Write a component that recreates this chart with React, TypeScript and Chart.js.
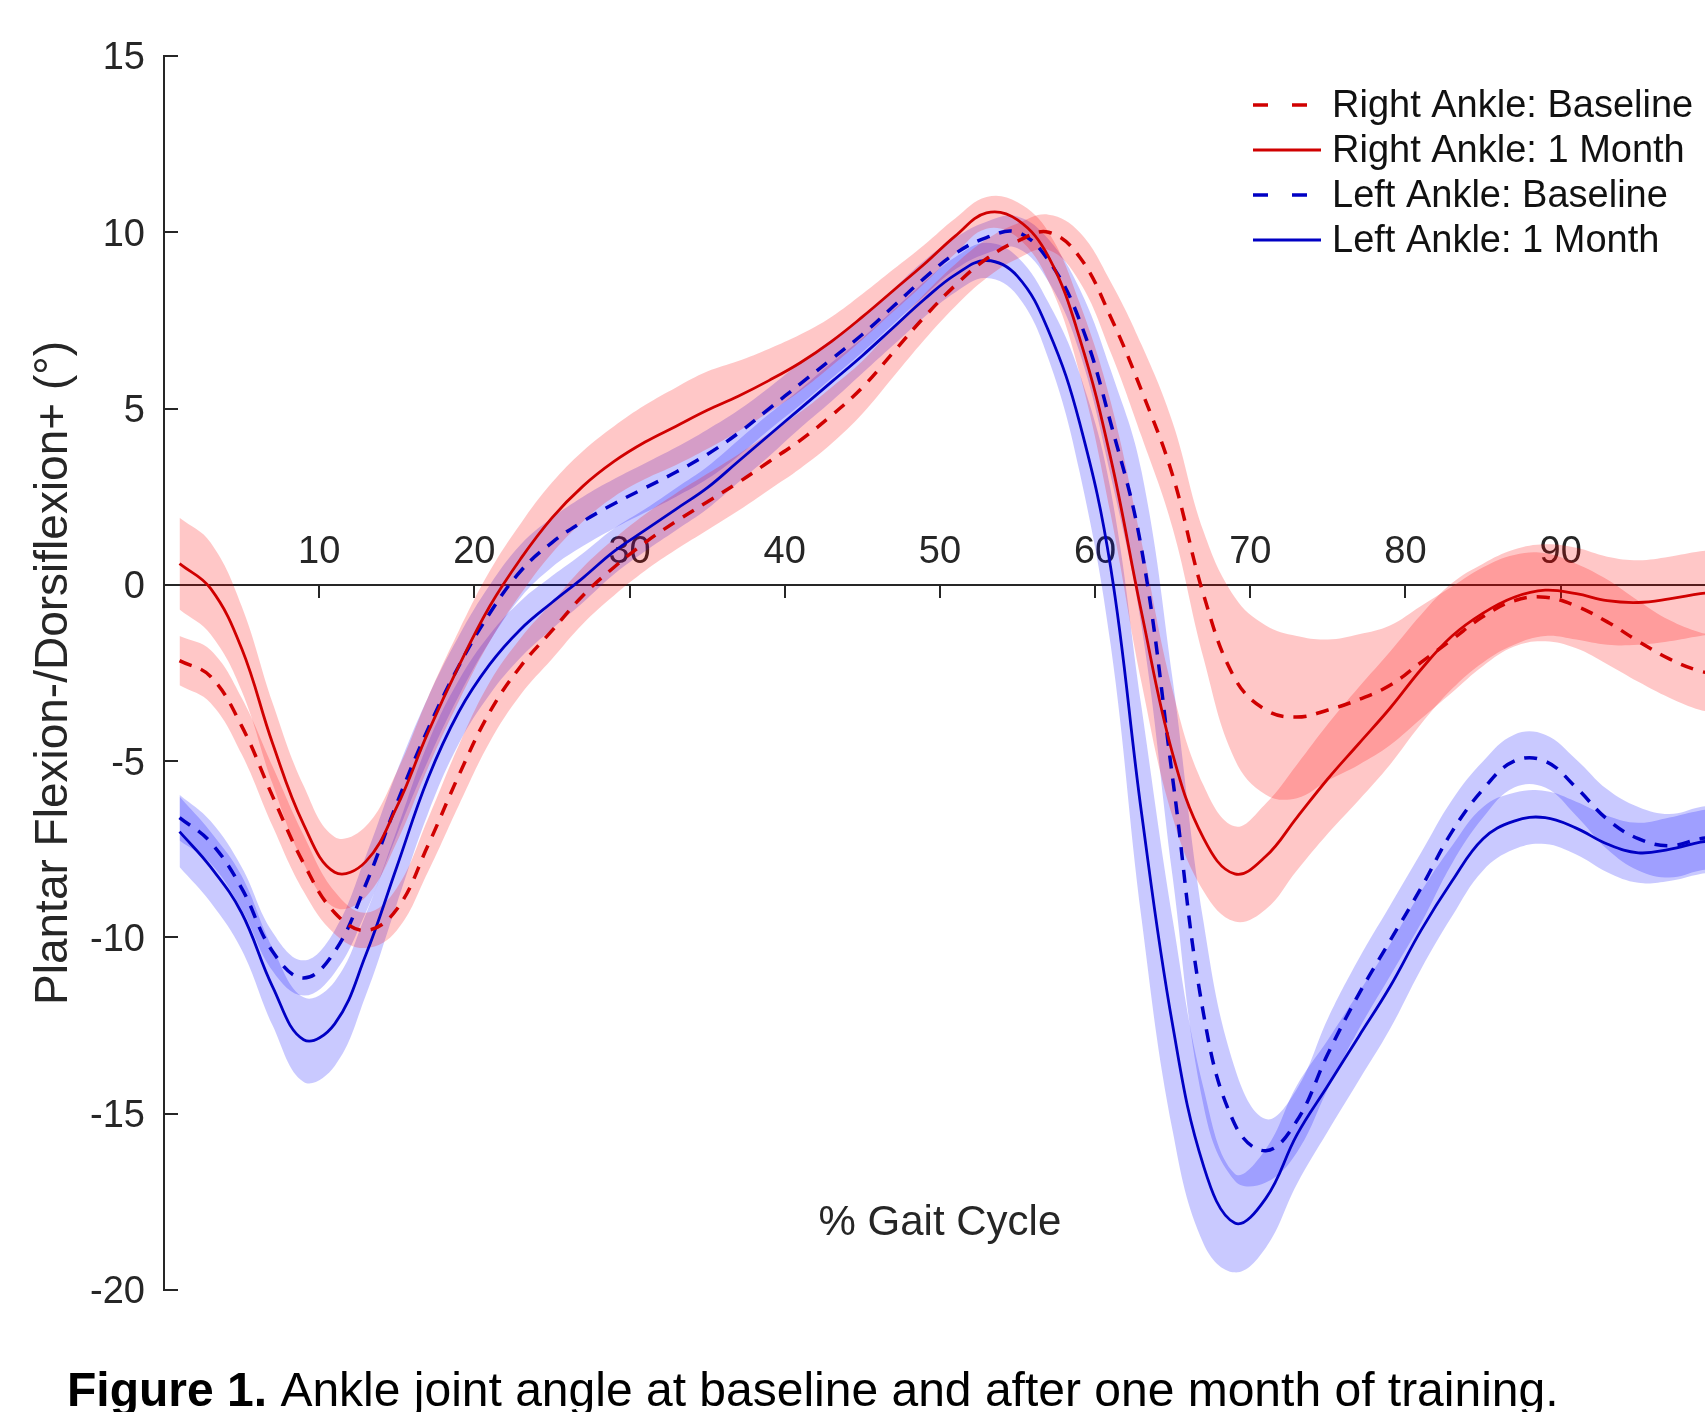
import React, { useEffect, useRef } from "react";
import { Chart, registerables } from "chart.js";

Chart.register(...registerables);

// ---------- data ----------
const gaitPct = [1, 3, 5, 7, 9, 11, 13, 15, 17, 19, 21, 23, 25, 27, 29, 31, 33, 35, 37, 39, 41, 43, 45, 47, 49, 51, 53, 55, 57, 59, 61, 63, 65, 67, 69, 71, 73, 75, 77, 79, 81, 83, 85, 87, 89, 91, 93, 95, 97, 99, 100];

const rightBaseline = [-2.15, -2.6, -4.0, -6.0, -7.9, -9.3, -9.8, -9.2, -7.4, -5.4, -3.6, -2.3, -1.3, -0.3, 0.5, 1.2, 1.8, 2.35, 2.9, 3.5, 4.1, 4.8, 5.6, 6.6, 7.6, 8.5, 9.25, 9.75, 10.0, 9.3, 7.6, 5.5, 3.1, -0.3, -2.65, -3.55, -3.75, -3.55, -3.25, -2.85, -2.2, -1.55, -0.9, -0.45, -0.35, -0.6, -1.05, -1.6, -2.1, -2.45, -2.5];
const rightOneMonth = [0.6, -0.1, -1.8, -4.5, -6.8, -8.15, -7.85, -6.3, -4.2, -2.3, -0.6, 0.75, 1.9, 2.8, 3.5, 4.05, 4.5, 4.95, 5.35, 5.8, 6.3, 6.9, 7.6, 8.35, 9.1, 9.9, 10.55, 10.35, 9.3, 7.0, 3.6, -0.8, -4.8, -7.2, -8.2, -7.7, -6.6, -5.5, -4.5, -3.5, -2.4, -1.45, -0.8, -0.35, -0.15, -0.25, -0.45, -0.5, -0.4, -0.25, -0.2];
const leftBaseline = [-6.6, -7.3, -8.6, -10.4, -11.15, -10.4, -8.5, -6.2, -4.1, -2.3, -0.8, 0.4, 1.2, 1.8, 2.3, 2.75, 3.2, 3.7, 4.3, 5.0, 5.7, 6.4, 7.1, 7.9, 8.7, 9.4, 9.85, 10.0, 9.2, 7.5, 4.6, 1.0, -5.5, -12.2, -15.3, -16.05, -15.2, -13.3, -11.6, -10.1, -8.6, -7.0, -5.8, -5.0, -5.0, -5.75, -6.65, -7.2, -7.4, -7.2, -7.15];
const leftOneMonth = [-7.0, -8.0, -9.3, -11.4, -12.9, -12.45, -10.5, -8.0, -5.5, -3.6, -2.25, -1.25, -0.5, 0.2, 0.95, 1.55, 2.15, 2.75, 3.5, 4.25, 5.0, 5.75, 6.5, 7.3, 8.1, 8.8, 9.2, 8.75, 7.2, 4.6, 0.5, -6.5, -12.5, -16.5, -18.1, -17.4, -15.6, -14.2, -12.8, -11.4, -9.8, -8.4, -7.2, -6.7, -6.6, -6.9, -7.35, -7.6, -7.5, -7.3, -7.25];

// standard deviations (half-width of shaded bands)
const sdRightBaseline = [0.7, 0.75, 0.8, 0.85, 0.8, 0.6, 0.5, 0.6, 0.75, 0.85, 0.85, 0.8, 0.8, 0.8, 0.8, 0.8, 0.8, 0.8, 0.8, 0.8, 0.8, 0.8, 0.75, 0.7, 0.65, 0.6, 0.55, 0.5, 0.5, 0.7, 1.0, 1.3, 1.5, 1.8, 2.3, 2.4, 2.3, 2.0, 1.85, 1.7, 1.6, 1.5, 1.4, 1.3, 1.25, 1.2, 1.2, 1.15, 1.1, 1.1, 1.1];
const sdRightOneMonth = [1.3, 1.3, 1.2, 1.15, 1.1, 1.0, 1.0, 1.0, 1.0, 1.0, 1.0, 1.0, 1.0, 1.0, 1.0, 1.05, 1.1, 1.1, 1.0, 0.9, 0.8, 0.7, 0.65, 0.6, 0.55, 0.5, 0.45, 0.5, 0.7, 1.0, 1.6, 2.0, 1.8, 1.5, 1.35, 1.5, 1.5, 1.55, 1.6, 1.6, 1.55, 1.5, 1.4, 1.35, 1.3, 1.3, 1.25, 1.2, 1.2, 1.2, 1.2];
const sdLeftBaseline = [0.65, 0.6, 0.6, 0.55, 0.5, 0.6, 0.8, 0.9, 0.9, 0.85, 0.8, 0.75, 0.7, 0.7, 0.7, 0.7, 0.7, 0.7, 0.65, 0.6, 0.6, 0.55, 0.5, 0.5, 0.5, 0.45, 0.45, 0.45, 0.6, 0.9, 1.5, 2.2, 2.8, 2.6, 1.6, 0.9, 0.9, 1.0, 1.0, 1.0, 1.0, 0.9, 0.8, 0.75, 0.75, 0.8, 0.85, 0.9, 0.9, 0.9, 0.9];
const sdLeftOneMonth = [1.0, 1.0, 1.05, 1.1, 1.2, 1.2, 1.15, 1.05, 1.0, 0.9, 0.85, 0.8, 0.75, 0.7, 0.65, 0.6, 0.6, 0.6, 0.6, 0.6, 0.55, 0.55, 0.5, 0.5, 0.5, 0.5, 0.5, 0.55, 0.8, 1.4, 2.2, 3.0, 3.0, 2.2, 1.4, 1.4, 1.4, 1.3, 1.25, 1.2, 1.1, 1.0, 0.9, 0.8, 0.75, 0.75, 0.8, 0.85, 0.9, 0.9, 0.9];

const seriesLabels = ["Right Ankle: Baseline", "Right Ankle: 1 Month", "Left Ankle: Baseline", "Left Ankle: 1 Month"];
const xTickValues = [10, 20, 30, 40, 50, 60, 70, 80, 90];
const yTickValues = [15, 10, 5, 0, -5, -10, -15, -20];
const xAxisTitle = "% Gait Cycle";
const yAxisTitle = "Plantar Flexion-/Dorsiflexion+ (°)";
const captionBold = "Figure 1.";
const captionRest = " Ankle joint angle at baseline and after one month of training.";

// ---------- styling ----------
const FONT = "'Liberation Sans', Arial, Helvetica, sans-serif";
const AXIS = "#262626";
const RED = "#D00000";
const BLUE = "#0000C4";
const RED_BAND = "rgba(255, 0, 0, 0.22)";
const BLUE_BAND = "rgba(0, 0, 255, 0.21)";

const series = [
  { label: seriesLabels[0], mean: rightBaseline, sd: sdRightBaseline, color: RED, band: RED_BAND, dashed: true },
  { label: seriesLabels[1], mean: rightOneMonth, sd: sdRightOneMonth, color: RED, band: RED_BAND, dashed: false },
  { label: seriesLabels[2], mean: leftBaseline, sd: sdLeftBaseline, color: BLUE, band: BLUE_BAND, dashed: true },
  { label: seriesLabels[3], mean: leftOneMonth, sd: sdLeftOneMonth, color: BLUE, band: BLUE_BAND, dashed: false },
];

const pts = (arr: number[]) => gaitPct.map((x, i) => ({ x, y: arr[i] }));

const overlayPlugin = {
  id: "overlay",
  afterDraw(chart: any) {
    const ctx = chart.ctx as CanvasRenderingContext2D;
    const xs = chart.scales.x;
    ctx.save();
    // x-axis title
    ctx.fillStyle = AXIS;
    ctx.font = `42px ${FONT}`;
    ctx.textAlign = "center";
    ctx.textBaseline = "alphabetic";
    ctx.fillText(xAxisTitle, xs.getPixelForValue(50), 1235);

    // legend
    const lines = chart.data.datasets.filter((d: any) => d.isSeries);
    lines.forEach((d: any, i: number) => {
      const y = 105 + i * 45;
      const dashed = d.borderDash && d.borderDash.length;
      ctx.beginPath();
      ctx.strokeStyle = d.borderColor;
      ctx.lineWidth = dashed ? 3.5 : 3;
      ctx.setLineDash(dashed ? [15, 24] : []);
      ctx.moveTo(1253, y);
      ctx.lineTo(1321, y);
      ctx.stroke();
      ctx.setLineDash([]);
      ctx.fillStyle = "#111111";
      ctx.font = `38px ${FONT}`;
      ctx.textAlign = "left";
      ctx.textBaseline = "alphabetic";
      ctx.fillText(d.label, 1332, y + 12);
    });

    // caption
    ctx.fillStyle = "#000000";
    ctx.textAlign = "left";
    ctx.font = `bold 48px ${FONT}`;
    ctx.fillText(captionBold, 67, 1406);
    const w = ctx.measureText(captionBold).width;
    ctx.font = `48px ${FONT}`;
    ctx.fillText(captionRest, 67 + w, 1406);
    ctx.restore();
  },
};

export default function App() {
  const canvasRef = useRef<HTMLCanvasElement | null>(null);

  useEffect(() => {
    if (!canvasRef.current) return;
    const datasets: any[] = [];
    series.forEach((s) => {
      datasets.push({
        label: s.label + " (+SD)",
        data: pts(s.mean.map((m, i) => m + s.sd[i])),
        borderWidth: 0,
        pointRadius: 0,
        backgroundColor: s.band,
        fill: "+1",
        tension: 0.4,
      });
      datasets.push({
        label: s.label + " (-SD)",
        data: pts(s.mean.map((m, i) => m - s.sd[i])),
        borderWidth: 0,
        pointRadius: 0,
        fill: false,
        tension: 0.4,
      });
    });
    series.forEach((s) => {
      datasets.push({
        label: s.label,
        isSeries: true,
        data: pts(s.mean),
        borderColor: s.color,
        borderWidth: s.dashed ? 3.5 : 2.8,
        borderDash: s.dashed ? [13, 10] : [],
        pointRadius: 0,
        fill: false,
        tension: 0.4,
      });
    });

    const chart = new Chart(canvasRef.current, {
      type: "line",
      data: { datasets },
      plugins: [overlayPlugin],
      options: {
        responsive: false,
        animation: false,
        devicePixelRatio: 1,
        layout: { padding: { top: 56, bottom: 122, left: 0, right: 0 } },
        plugins: {
          legend: { display: false },
          tooltip: { enabled: false },
          filler: { drawTime: "beforeDatasetsDraw", propagate: false },
        },
        scales: {
          x: {
            type: "linear",
            min: 0,
            max: 99.3,
            position: { y: 0 },
            afterBuildTicks: (scale: any) => {
              scale.ticks = xTickValues.map((v) => ({ value: v }));
            },
            grid: { drawOnChartArea: false, drawTicks: true, tickLength: 12, color: AXIS, lineWidth: 2 },
            border: { display: true, color: AXIS, width: 2 },
            ticks: {
              padding: -67,
              autoSkip: false,
              maxRotation: 0,
              color: AXIS,
              font: { family: FONT, size: 38 },
            },
          },
          y: {
            type: "linear",
            min: -20,
            max: 15,
            position: "left",
            afterBuildTicks: (scale: any) => {
              scale.ticks = yTickValues.map((v) => ({ value: v }));
            },
            afterFit: (scale: any) => {
              scale.width = 164;
            },
            grid: { drawOnChartArea: false, drawTicks: true, tickLength: -14, color: AXIS, lineWidth: 2 },
            border: { display: true, color: AXIS, width: 2 },
            ticks: {
              padding: 33,
              labelOffset: 3,
              color: AXIS,
              font: { family: FONT, size: 38 },
            },
            title: {
              display: true,
              text: yAxisTitle,
              color: AXIS,
              font: { family: FONT, size: 46 },
              padding: { top: 27, bottom: 0 },
            },
          },
        },
      } as any,
    });
    return () => chart.destroy();
  }, []);

  return (
    <div style={{ position: "fixed", left: 0, top: 0, width: 1705, height: 1412, background: "#ffffff" }}>
      <canvas ref={canvasRef} width={1705} height={1412} style={{ display: "block" }} />
    </div>
  );
}
